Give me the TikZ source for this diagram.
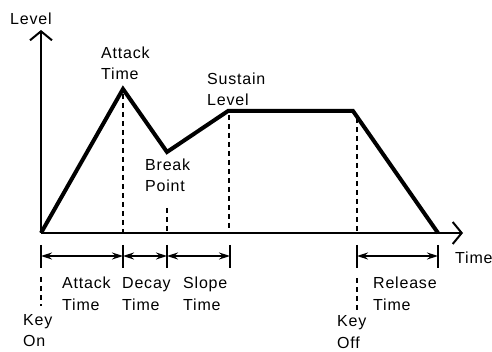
\documentclass[tikz,border=0pt]{standalone}
\usepackage{fontspec}
\setmainfont{Liberation Sans}[LetterSpace=5]
\usetikzlibrary{arrows.meta,positioning}

\begin{document}
\begin{tikzpicture}[
  x=1pt,y=-1pt,
  lbl/.style={align=left,inner sep=0pt,anchor=base west,font=\fontsize{16}{21}\selectfont},
  axis/.style={line width=2pt,-{Straight Barb[length=9pt,width=22pt,line width=2pt]}},
  env/.style={line width=4pt,line join=miter},
  guide/.style={line width=2.6pt,dash pattern=on 5pt off 4pt},
  tick/.style={line width=1.4pt},
  span/.style={{Stealth[length=11pt,width=7pt]}-{Stealth[length=11pt,width=7pt]},line width=1.4pt}
]
\useasboundingbox (0,0) rectangle (492,352);
\coordinate (o) at (41,233);
\coordinate (ytop) at (41,30);
\coordinate (xend) at (463,233);
\coordinate (peak) at (123,89);
\coordinate (brk) at (167,152);
\coordinate (sus) at (228,111);
\coordinate (off) at (353,111);
\coordinate (rel) at (438,233);
\draw[axis] (o)--(ytop);
\draw[axis] (o)--(xend);
\draw[env] (o)--(peak)--(brk)--(sus)--(off)--(rel);
\draw[guide] (123,94)--(123,233);
\draw[guide] (167,208)--(167,233);
\draw[guide] (229,115)--(229,233);
\draw[guide] (357,118)--(357,233);
\draw[guide] (41,277)--(41,306);
\draw[guide] (357,278)--(357,310);
\foreach \x in {41,123,167,230,357,438}
  \draw[tick] (\x,245)--(\x,268);
\draw[span] (41,256)--(123,256);
\draw[span] (123,256)--(167,256);
\draw[span] (167,256)--(230,256);
\draw[span] (357,256)--(438,256);
\node[lbl] (lvl) at (10,25) {Level};
\node[lbl] (tm) at (455,264) {Time};
\node[lbl] (attack) at (101,80) {Attack\\Time};
\node[lbl] (sustain) at (207,106) {Sustain\\Level};
\node[lbl] (break) at (145,192) {Break\\Point};
\node[lbl] (attackspan) at (62,310) {Attack\\Time};
\node[lbl] (decayspan) at (122,310) {Decay\\Time};
\node[lbl] (slopespan) at (183,310) {Slope\\Time};
\node[lbl] (releasespan) at (373,310) {Release\\Time};
\node[lbl] (keyon) at (23,346) {Key\\On};
\node[lbl] (keyoff) at (337,348) {Key\\Off};
\end{tikzpicture}
\end{document}
